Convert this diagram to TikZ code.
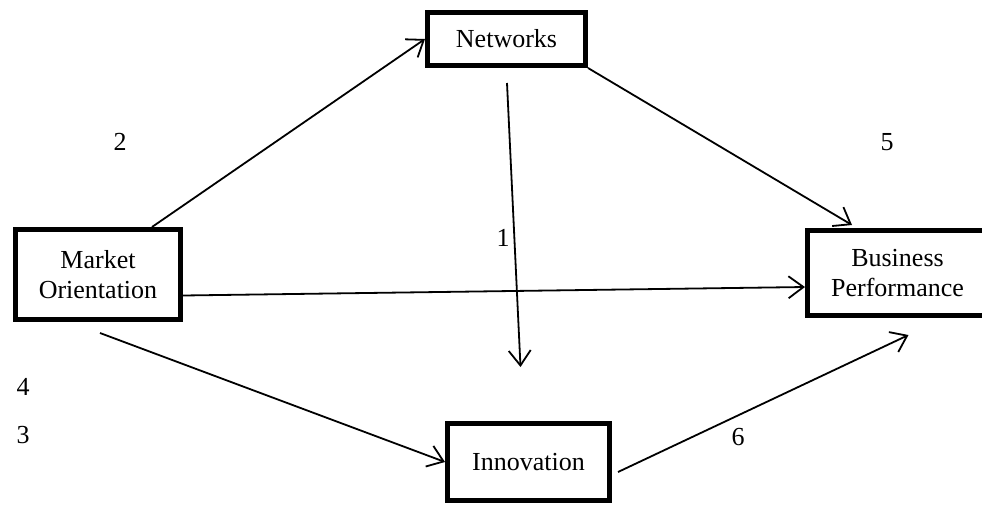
\documentclass[tikz,border=0pt]{standalone}
\usepackage{fontspec}
\setmainfont{Liberation Serif}
\usetikzlibrary{arrows.meta}

\begin{document}
\begin{tikzpicture}[x=1pt,y=-1pt,
    box/.style={draw,line width=5pt,align=center,inner sep=0pt,
      font=\fontsize{26}{30}\selectfont},
    link/.style={line width=1.8pt,-{Straight Barb[length=15pt,width=22pt]}},
    num/.style={font=\fontsize{26}{30}\selectfont}]
    \useasboundingbox (0,0) rectangle (982,504);

    % the four boxes
    \node[box,minimum width=158pt,minimum height=53pt] (net) at (506.5,39) {Networks};
    \node[box,minimum width=165pt,minimum height=90pt] (mo) at (98,274.5) {Market\\Orientation};
    \node[box,minimum width=180pt,minimum height=85pt] (bp) at (897.5,273) {Business\\Performance};
    \node[box,minimum width=162pt,minimum height=77pt] (inn) at (528.5,462) {Innovation};

    % paths
    \draw[link] ([xshift=139pt]mo.north west) -- (net.west);
    \draw[link] (net.south east) -- ([xshift=47pt,yshift=3pt]bp.north west);
    \draw[link] ([xshift=82pt,yshift=-15pt]net.south west) -- ([xshift=-8pt,yshift=54pt]inn.north);
    \draw[link] ([yshift=-21pt]mo.east) -- ([yshift=-14pt]bp.west);
    \draw[link] ([xshift=2pt,yshift=-11pt]mo.south) -- (inn.west);
    \draw[link] ([xshift=6pt,yshift=-10pt]inn.east) -- ([xshift=11pt,yshift=-17pt]bp.south);

    % path numbers
    \node[num] (n1) at (503,238) {1};
    \node[num] (n2) at (120,142) {2};
    \node[num] (n3) at (23,435) {3};
    \node[num] (n4) at (23,387) {4};
    \node[num] (n5) at (887,142) {5};
    \node[num] (n6) at (738,437) {6};
\end{tikzpicture}
\end{document}
